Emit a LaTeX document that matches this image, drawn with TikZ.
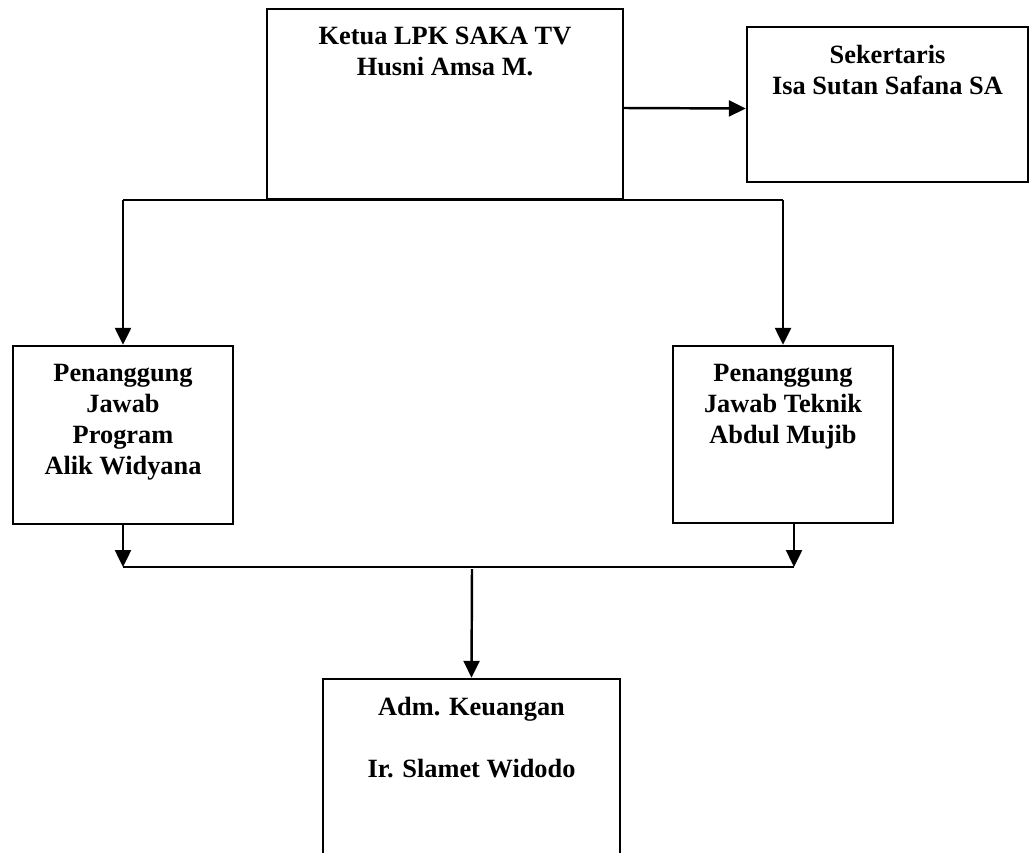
\documentclass[tikz,border=0pt]{standalone}
\usepackage{fontspec}
\setmainfont{Liberation Serif}
\usepackage{tikz}
\usetikzlibrary{arrows.meta,positioning}

\begin{document}
\begin{tikzpicture}[x=0.02cm,y=-0.02cm,line width=1.4pt,
	kotak/.style={draw,rectangle,inner sep=0pt},
	teks/.style={align=center,inner sep=0pt,font=\fontsize{15}{17.6}\selectfont\bfseries},
	panah/.style={-{Triangle[length=0.34cm,width=0.32cm]}}]
		\useasboundingbox (0,0) rectangle (1030,852);
		\clip (0,0) rectangle (1030,852);
		\node[kotak,minimum width=7.12cm,minimum height=3.8cm] (ketua) at (445,104) {};
		\node[kotak,minimum width=5.62cm,minimum height=3.1cm] (sekre) at (887.5,104.5) {};
		\node[kotak,minimum width=4.4cm,minimum height=3.56cm] (pjprog) at (123,435) {};
		\node[kotak,minimum width=4.4cm,minimum height=3.54cm] (pjtek) at (783,434.5) {};
		\node[kotak,minimum width=5.94cm,minimum height=4.4cm] (adm) at (471.5,789) {};
		\node[teks,below=0.36cm of ketua.north] (ketuaT) {Ketua LPK SAKA TV\\Husni Amsa M.};
		\node[teks,below=0.36cm of sekre.north] (sekreT) {Sekertaris\\Isa Sutan Safana SA};
		\node[teks,below=0.36cm of pjprog.north] (pjprogT) {Penanggung\\Jawab\\Program\\Alik Widyana};
		\node[teks,below=0.36cm of pjtek.north] (pjtekT) {Penanggung\\Jawab Teknik\\Abdul Mujib};
		\node[teks,below=0.36cm of adm.north] (admT) {Adm. Keuangan\\[17.6pt]Ir. Slamet Widodo};
		\coordinate (kiri) at (pjprog.north |- ketua.south);
		\coordinate (kanan) at (pjtek.north |- ketua.south);
		\coordinate (bawahkiri) at (123,567);
		\coordinate (bawahkanan) at (794,567);
		\coordinate (tengah) at (472,569);
		\draw[panah] ([yshift=-0.08cm]ketua.east) -- ([yshift=-0.08cm]sekre.west);
		\draw (kiri) -- (kanan);
		\draw[panah] (kiri) -- (pjprog.north);
		\draw[panah] (kanan) -- (pjtek.north);
		\draw[panah] (pjprog.south) -- (bawahkiri);
		\draw[panah] (pjtek.south -| bawahkanan) -- (bawahkanan);
		\draw (bawahkiri) -- (bawahkanan);
		\draw[panah] (tengah) -- (adm.north);
	\end{tikzpicture}
\end{document}
